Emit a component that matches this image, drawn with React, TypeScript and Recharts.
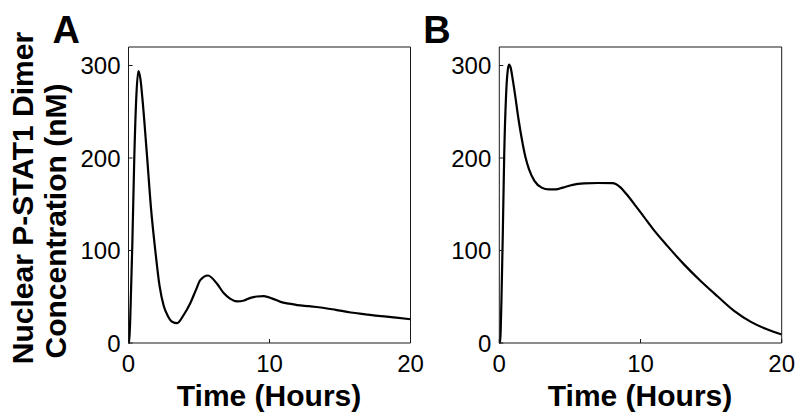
import { LineChart, Line, XAxis, YAxis } from 'recharts';

// panel A: nuclear P-STAT1 dimer, hours vs nM
const timeA = [0, 0.05, 0.15, 0.27, 0.41, 0.56, 0.7, 0.85, 1.0, 1.3, 1.6, 1.9, 2.2, 2.5, 2.8, 3.1, 3.45, 3.9, 4.38, 4.8, 5.09, 5.64, 6.28, 6.75, 7.2, 7.7, 8.2, 8.65, 9.1, 9.6, 10.2, 10.78, 11.4, 11.97, 12.8, 13.63, 14.7, 15.77, 16.8, 17.9, 19.0, 20];
const concA = [0, 0, 40, 106, 200, 268, 294, 285, 262, 205, 145, 100, 62, 40, 29, 23, 21.5, 30, 43, 58, 68, 73, 64, 54, 48, 45, 46, 48.8, 50.3, 50.6, 48, 44.5, 42.5, 41, 39.8, 38.4, 35.8, 33, 31, 29, 27.4, 25.7];

// panel B
const timeB = [0, 0.05, 0.15, 0.25, 0.35, 0.48, 0.6, 0.69, 0.8, 0.95, 1.12, 1.35, 1.6, 1.85, 2.1, 2.5, 3.0, 3.5, 4.0, 4.5, 5.2, 6.0, 7.0, 8.0, 8.25, 8.6, 9.0, 9.52, 10.23, 10.95, 11.9, 13.08, 14.26, 15.45, 16.63, 17.82, 19.0, 20];
const concB = [0, 0, 45, 120, 205, 268, 295, 301, 298, 285, 268, 243, 220, 201, 188, 175, 168, 166, 166, 168, 171, 172.5, 173, 172.8, 172, 168, 161, 151, 136.6, 122, 105, 85, 67, 50.5, 34.7, 22.8, 14.5, 9.2];

const xTicks = [0, 10, 20];
const yTicks = [0, 100, 200, 300];

const dataA = timeA.map((t, i) => ({ t, v: concA[i] }));
const dataB = timeB.map((t, i) => ({ t, v: concB[i] }));

const FONT = 'Arial, "Liberation Sans", Helvetica, sans-serif';
const tickStyle = { fill: '#000', fontSize: 24, fontFamily: FONT };
const axisStroke = '#1a1a1a';

function YLabel() {
  return (
    <g fontFamily={FONT} fontWeight="bold" fontSize={30} fill="#000">
      <text x={33} y={198} textAnchor="middle" transform="rotate(-90, 33, 198)">
        Nuclear P-STAT1 Dimer
      </text>
      <text x={66} y={221} textAnchor="middle" transform="rotate(-90, 66, 221)">
        Concentration (nM)
      </text>
    </g>
  );
}

function Panel({ data, letter, width, plotLeft, plotRight, yLabel }: {
  data: { t: number; v: number }[];
  letter: string;
  width: number;
  plotLeft: number;
  plotRight: number;
  yLabel?: boolean;
}) {
  const plotMid = (plotLeft + plotRight) / 2;
  return (
    <LineChart
      width={width}
      height={417}
      data={data}
      margin={{ top: 47, right: width - plotRight - 1, bottom: 44, left: 0 }}
    >
      <XAxis
        dataKey="t"
        type="number"
        domain={[0, 20]}
        ticks={xTicks}
        tickSize={-4}
        tickMargin={16}
        height={30}
        stroke={axisStroke}
        tick={tickStyle}
        label={{
          content: () => (
            <text x={plotMid} y={406} textAnchor="middle" fontFamily={FONT} fontWeight="bold" fontSize={30} fill="#000">
              Time (Hours)
            </text>
          ),
        }}
      />
      {/* mirrored top/right axes close the box, ticks pointing in */}
      <XAxis
        xAxisId="top"
        dataKey="t"
        orientation="top"
        type="number"
        domain={[0, 20]}
        ticks={xTicks}
        tickSize={4}
        mirror
        height={1}
        tick={false}
        stroke={axisStroke}
      />
      <YAxis
        type="number"
        domain={[0, 320]}
        ticks={yTicks}
        tickSize={-4}
        tickMargin={12}
        width={plotLeft}
        stroke={axisStroke}
        tick={tickStyle}
        label={{
          content: () => (
            <g>
              <text x={plotLeft - 76} y={43} fontFamily={FONT} fontWeight="bold" fontSize={38} fill="#000">
                {letter}
              </text>
              {yLabel ? <YLabel /> : null}
            </g>
          ),
        }}
      />
      <YAxis
        yAxisId="right"
        orientation="right"
        type="number"
        domain={[0, 320]}
        ticks={yTicks}
        tickSize={4}
        mirror
        width={1}
        tick={false}
        stroke={axisStroke}
      />
      <Line
        type="monotone"
        dataKey="v"
        stroke="#000"
        strokeWidth={2.2}
        dot={false}
        isAnimationActive={false}
      />
      <Line
        xAxisId="top"
        yAxisId="right"
        dataKey="v"
        stroke="none"
        dot={false}
        activeDot={false}
        isAnimationActive={false}
      />
    </LineChart>
  );
}

export default function App() {
  return (
    <div style={{ position: 'absolute', left: 0, top: 0, width: 800, height: 417, background: '#fff', overflow: 'hidden' }}>
      <div style={{ position: 'absolute', left: 0, top: 0 }}>
        <Panel data={dataA} letter="A" width={440} plotLeft={128.5} plotRight={409.5} yLabel />
      </div>
      <div style={{ position: 'absolute', left: 420, top: 0 }}>
        <Panel data={dataB} letter="B" width={380} plotLeft={79.3} plotRight={360.7} />
      </div>
    </div>
  );
}
